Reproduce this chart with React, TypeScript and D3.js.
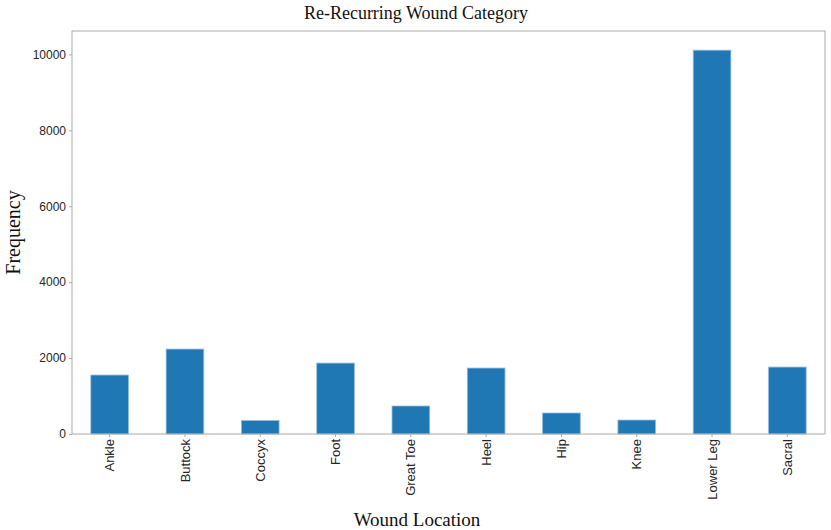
import { useEffect, useRef } from "react";
import * as d3 from "d3";

const WIDTH = 831;
const HEIGHT = 530;
const MARGIN = { top: 31, right: 6, bottom: 96, left: 72 };

const locations = [
  "Ankle",
  "Buttock",
  "Coccyx",
  "Foot",
  "Great Toe",
  "Heel",
  "Hip",
  "Knee",
  "Lower Leg",
  "Sacral",
];
const frequencies = [1553, 2237, 355, 1868, 737, 1737, 553, 368, 10110, 1763];
const yTicks = [0, 2000, 4000, 6000, 8000, 10000];

export default function App() {
  const axesRef = useRef<SVGGElement>(null);
  const boundsWidth = WIDTH - MARGIN.left - MARGIN.right;
  const boundsHeight = HEIGHT - MARGIN.top - MARGIN.bottom;

  const xScale = d3
    .scaleBand()
    .domain(locations)
    .range([0, boundsWidth])
    .paddingInner(0.5)
    .paddingOuter(0.25);

  const yMax = (d3.max(frequencies) || 0) * 1.05;
  const yScale = d3.scaleLinear().domain([0, yMax]).range([boundsHeight, 0]);

  // axes through d3
  useEffect(() => {
    const g = d3.select(axesRef.current);
    g.selectAll("*").remove();

    const yAxis = g
      .append("g")
      .call(
        d3
          .axisLeft(yScale)
          .tickValues(yTicks)
          .tickFormat(d3.format("d"))
          .tickSize(3)
          .tickPadding(3)
      );
    const xAxis = g
      .append("g")
      .attr("transform", `translate(0,${boundsHeight})`)
      .call(d3.axisBottom(xScale).tickSize(3).tickPadding(3));

    [yAxis, xAxis].forEach((a) => {
      a.select(".domain").remove();
      a.selectAll("line").attr("stroke", "#aaa");
      a.selectAll("text")
        .attr("fill", "#262626")
        .style("font-family", "Liberation Sans")
        .style("font-size", "12px");
    });

    xAxis
      .selectAll("text")
      .style("font-size", "13px")
      .attr("transform", "rotate(-90)")
      .attr("text-anchor", "end")
      .attr("dy", "0.35em")
      .attr("x", -5)
      .attr("y", 0);
  }, []);

  return (
    <svg width={WIDTH} height={HEIGHT} style={{ position: "absolute", left: 0, top: 0 }}>
      <rect width={WIDTH} height={HEIGHT} fill="#fff" />
      <text
        x={416}
        y={19}
        textAnchor="middle"
        fontFamily="Liberation Serif"
        fontSize={18}
        fill="#111"
      >
        Re-Recurring Wound Category
      </text>
      <g transform={`translate(${MARGIN.left},${MARGIN.top})`}>
        {locations.map((loc, i) => (
          <rect
            key={loc}
            x={xScale(loc)}
            y={yScale(frequencies[i])}
            width={xScale.bandwidth()}
            height={boundsHeight - yScale(frequencies[i])}
            fill="#1f77b4"
            stroke="#8fbbe0"
            strokeWidth={0.8}
          />
        ))}
        <rect
          x={0}
          y={0}
          width={boundsWidth}
          height={boundsHeight}
          fill="none"
          stroke="#aaa"
          strokeWidth={1}
        />
        <g ref={axesRef} />
      </g>
      <text
        transform={`translate(20,${MARGIN.top + boundsHeight / 2}) rotate(-90)`}
        textAnchor="middle"
        fontFamily="Liberation Serif"
        fontSize={20}
        fill="#111"
      >
        Frequency
      </text>
      <text
        x={417}
        y={526}
        textAnchor="middle"
        fontFamily="Liberation Serif"
        fontSize={19}
        fill="#111"
      >
        Wound Location
      </text>
    </svg>
  );
}
